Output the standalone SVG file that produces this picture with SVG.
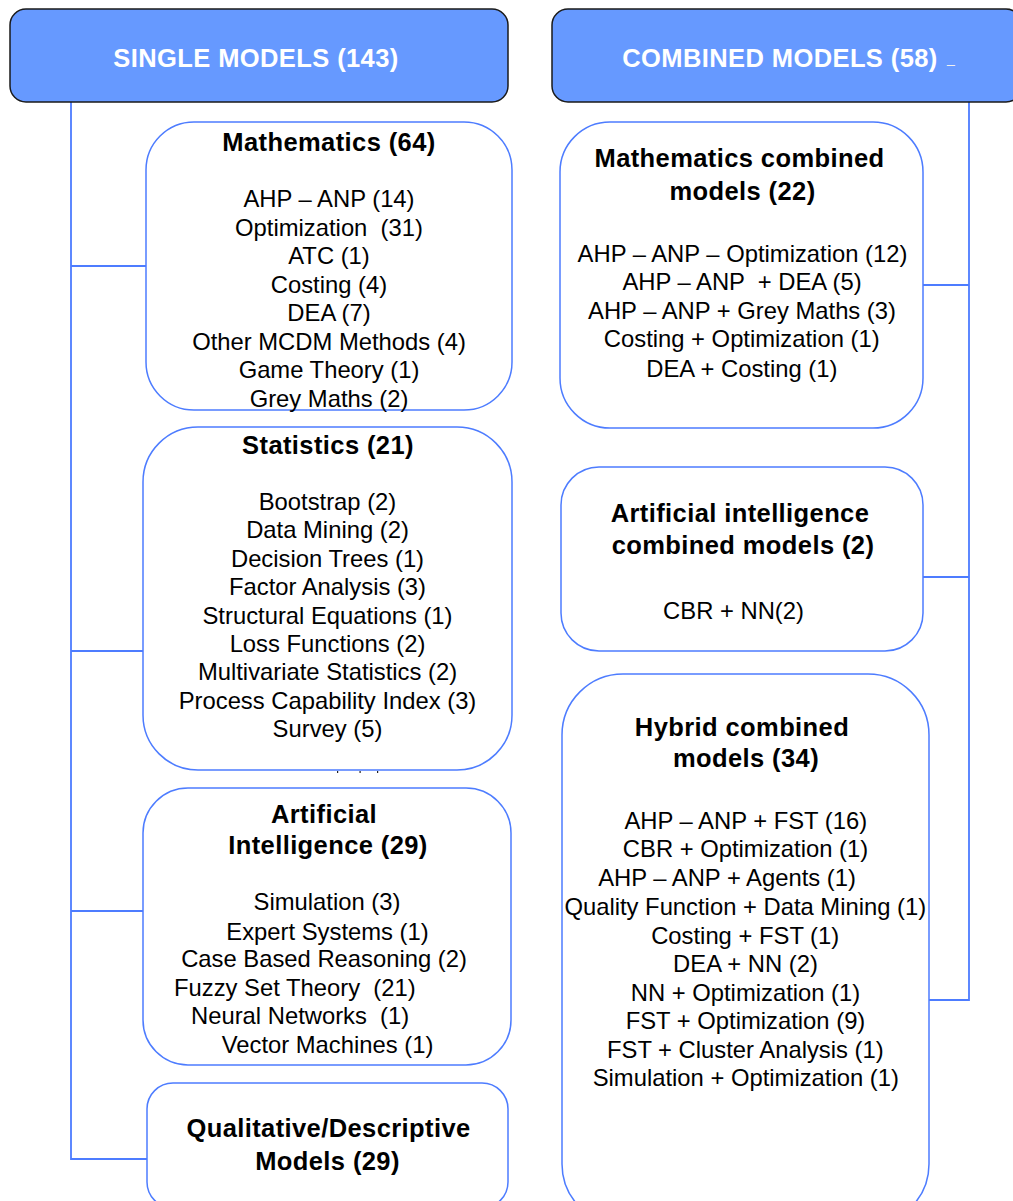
<svg xmlns="http://www.w3.org/2000/svg" width="1013" height="1201" viewBox="0 0 1013 1201">
<style>
.hdr{fill:#6699ff;stroke:#1a1a1a;stroke-width:1.5}
.box{fill:#ffffff;stroke:#4d7cff;stroke-width:1.5}
.conn{fill:none;stroke:#4d7cff;stroke-width:1.8}
text{font-family:"Liberation Sans",Arial,Helvetica,sans-serif;fill:#000}
.ht{font-size:25.5px;font-weight:bold;letter-spacing:0.4px;fill:#ffffff;text-anchor:middle}
.t{font-size:25.5px;font-weight:bold;letter-spacing:0.4px;text-anchor:middle}
.b{font-size:23.8px;text-anchor:middle}
.bs{font-size:23.8px;text-anchor:start}
</style>
<rect width="1013" height="1201" fill="#ffffff"/>
<g id="connectors">
<path class="conn" d="M71,102 V1159 H147"/>
<path class="conn" d="M71,266 H146"/>
<path class="conn" d="M71,651 H143"/>
<path class="conn" d="M71,911 H143"/>
<path class="conn" d="M969,102 V1000 H929"/>
<path class="conn" d="M969,285 H923"/>
<path class="conn" d="M969,577 H923"/>
</g>
<g id="single-models">
<rect class="hdr" x="10" y="9" width="498" height="93" rx="16"/>
<text class="ht" x="256" y="67">SINGLE MODELS (143)</text>
</g>
<g id="combined-models">
<rect class="hdr" x="552" y="9" width="470" height="93" rx="16"/>
<text class="ht" x="780" y="67">COMBINED MODELS (58)</text>
<text x="947" y="63" style="font-size:14px;fill:#f0f0f0">_</text>
</g>
<g id="mathematics">
<rect class="box" x="146" y="122" width="366" height="288" rx="48"/>
<text class="t" x="329" y="151">Mathematics (64)</text>
<text class="b" x="329" y="207">AHP – ANP (14)</text>
<text class="b" x="329" y="235.5" xml:space="preserve">Optimization  (31)</text>
<text class="b" x="329" y="264">ATC (1)</text>
<text class="b" x="329" y="292.5">Costing (4)</text>
<text class="b" x="329" y="321">DEA (7)</text>
<text class="b" x="329" y="349.5">Other MCDM Methods (4)</text>
<text class="b" x="329" y="378">Game Theory (1)</text>
<text class="b" x="329" y="406.5">Grey Maths (2)</text>
</g>
<g id="statistics">
<rect class="box" x="143" y="427" width="369" height="343" rx="55"/>
<text class="t" x="328" y="453.5">Statistics (21)</text>
<text class="b" x="327.5" y="509.5">Bootstrap (2)</text>
<text class="b" x="327.5" y="538">Data Mining (2)</text>
<text class="b" x="327.5" y="566.5">Decision Trees (1)</text>
<text class="b" x="327.5" y="595">Factor Analysis (3)</text>
<text class="b" x="327.5" y="623.5">Structural Equations (1)</text>
<text class="b" x="327.5" y="652">Loss Functions (2)</text>
<text class="b" x="327.5" y="680">Multivariate Statistics (2)</text>
<text class="b" x="327.5" y="708.5">Process Capability Index (3)</text>
<text class="b" x="327.5" y="737">Survey (5)</text>
<g fill="#222">
<rect x="337" y="771" width="1.2" height="2"/>
<rect x="359.5" y="771" width="1.2" height="2"/>
<rect x="377" y="771" width="1.2" height="2"/>
</g>
</g>
<g id="artificial-intelligence">
<rect class="box" x="143" y="788" width="368" height="277" rx="45"/>
<text class="t" x="324" y="823">Artificial</text>
<text class="t" x="328" y="854">Intelligence (29)</text>
<text class="b" x="327" y="910">Simulation (3)</text>
<text class="b" x="327.5" y="939.5">Expert Systems (1)</text>
<text class="b" x="324" y="967">Case Based Reasoning (2)</text>
<text class="bs" x="174" y="996" xml:space="preserve">Fuzzy Set Theory  (21)</text>
<text class="bs" x="191" y="1024" xml:space="preserve">Neural Networks  (1)</text>
<text class="b" x="327.5" y="1053">Vector Machines (1)</text>
</g>
<g id="qualitative">
<rect class="box" x="147" y="1083" width="361" height="125" rx="26"/>
<text class="t" x="328.5" y="1137">Qualitative/Descriptive</text>
<text class="t" x="327.5" y="1170">Models (29)</text>
</g>
<g id="math-combined">
<rect class="box" x="560" y="122" width="363" height="306" rx="50"/>
<text class="t" x="739.5" y="167">Mathematics combined</text>
<text class="t" x="742.5" y="199.5">models (22)</text>
<text class="b" x="742.5" y="262">AHP – ANP – Optimization (12)</text>
<text class="b" x="742" y="290" xml:space="preserve">AHP – ANP  + DEA (5)</text>
<text class="b" x="742" y="318.5">AHP – ANP + Grey Maths (3)</text>
<text class="b" x="741.7" y="346.5">Costing + Optimization (1)</text>
<text class="b" x="741.8" y="377">DEA + Costing (1)</text>
</g>
<g id="ai-combined">
<rect class="box" x="561" y="467" width="362" height="184" rx="38"/>
<text class="t" x="740" y="521.5">Artificial intelligence</text>
<text class="t" x="743" y="554">combined models (2)</text>
<text class="b" x="733.5" y="619">CBR + NN(2)</text>
</g>
<g id="hybrid-combined">
<rect class="box" x="562" y="674" width="367" height="551" rx="61"/>
<text class="t" x="742" y="736">Hybrid combined</text>
<text class="t" x="746" y="767">models (34)</text>
<text class="b" x="745.8" y="829">AHP – ANP + FST (16)</text>
<text class="b" x="745.5" y="857">CBR + Optimization (1)</text>
<text class="b" x="727" y="886">AHP – ANP + Agents (1)</text>
<text class="b" x="745.3" y="914.5">Quality Function + Data Mining (1)</text>
<text class="b" x="745.2" y="944">Costing + FST (1)</text>
<text class="b" x="745.5" y="972">DEA + NN (2)</text>
<text class="b" x="745.5" y="1000.5">NN + Optimization (1)</text>
<text class="b" x="745.5" y="1029">FST + Optimization (9)</text>
<text class="b" x="745.3" y="1057.5">FST + Cluster Analysis (1)</text>
<text class="b" x="745.8" y="1086">Simulation + Optimization (1)</text>
</g>
</svg>
